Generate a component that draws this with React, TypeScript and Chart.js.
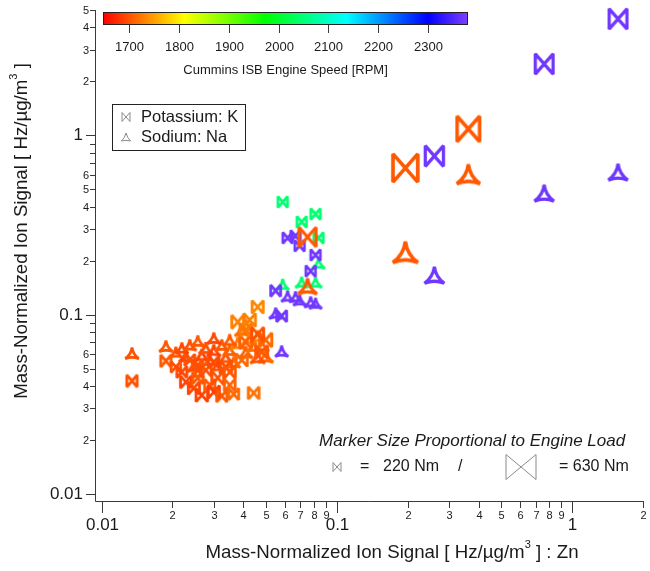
import { useEffect, useRef } from 'react';
import { Chart, registerables } from 'chart.js';

Chart.register(...registerables);

// ---------------- data (one entry per observation) ----------------
const zn = [
  0.01345, 0.01875, 0.02066, 0.02191, 0.02279, 0.02369, 0.02464, 0.02562, 0.02664, 0.0277,
  0.02881, 0.02996, 0.03115, 0.03239, 0.03368, 0.03502, 0.03641, 0.03787, 0.03938, 0.04094,
  0.04257, 0.04427, 0.04602, 0.04786, 0.04977, 0.02562, 0.02996, 0.03502, 0.04094, 0.04602,
  0.0588, 0.0708, 0.0811, 0.0835,
  0.0617, 0.0667, 0.0694, 0.0811, 0.0773, 0.0549, 0.0582,
  1.566, 0.76, 0.362, 0.2595, 0.1954, 0.075,
];
const potassium = [
  0.0427, 0.0552, 0.0511, 0.0479, 0.0421, 0.0559, 0.039, 0.0444, 0.0356, 0.0491,
  0.0405, 0.0371, 0.0444, 0.0352, 0.0511, 0.0405, 0.0361, 0.0911, 0.0559, 0.0704,
  0.0934, 0.0366, 0.1104, 0.0619, 0.0723, 0.0524, 0.0545, 0.0479, 0.0822, 0.078,
  0.425, 0.329, 0.364, 0.268,
  0.268, 0.275, 0.242, 0.215, 0.175, 0.136, 0.0983,
  4.46, 2.5, 1.086, 0.767, 0.658, 0.271,
];
const sodium = [
  0.0611, 0.0669, 0.0619, 0.0652, 0.0588, 0.0678, 0.0518, 0.0714, 0.0596, 0.0652,
  0.0559, 0.0635, 0.0524, 0.0678, 0.0581, 0.0635, 0.0545, 0.0696, 0.0822, 0.0619,
  0.0741, 0.0669, 0.076, 0.0678, 0.0588, 0.0479, 0.0741, 0.0723, 0.0876, 0.0581,
  0.148, 0.152, 0.152, 0.194,
  0.127, 0.126, 0.121, 0.116, 0.118, 0.102, 0.0627,
  0.625, 0.477, 0.609, 0.1665, 0.2237, 0.1446,
];
const engineSpeed = [
  1700, 1705, 1700, 1695, 1690, 1700, 1695, 1705, 1690, 1700,
  1705, 1690, 1700, 1705, 1700, 1710, 1715, 1730, 1715, 1710,
  1730, 1720, 1735, 1705, 1715, 1700, 1695, 1705, 1725, 1700,
  2045, 2045, 2045, 2045,
  2370, 2370, 2370, 2370, 2370, 2370, 2370,
  2370, 2370, 1705, 2370, 1705, 1705,
];
const engineLoad = [
  260, 260, 240, 250, 270, 250, 280, 260, 290, 270,
  260, 280, 300, 260, 290, 270, 250, 300, 280, 300,
  290, 270, 280, 300, 310, 240, 260, 280, 290, 300,
  240, 240, 240, 240,
  240, 240, 240, 240, 240, 250, 250,
  450, 450, 570, 460, 630, 430,
];

// ---------------- axes ----------------
const X_MIN = 0.009367;
const X_MAX = 2;
const Y_MIN = 0.00914;
const Y_MAX = 5;
const xTickValues = [
  0.01, 0.02, 0.03, 0.04, 0.05, 0.06, 0.07, 0.08, 0.09,
  0.1, 0.2, 0.3, 0.4, 0.5, 0.6, 0.7, 0.8, 0.9,
  1, 2,
];
const yTickValues = [
  0.01, 0.02, 0.03, 0.04, 0.05, 0.06, 0.07, 0.08, 0.09,
  0.1, 0.2, 0.3, 0.4, 0.5, 0.6, 0.7, 0.8, 0.9,
  1, 2, 3, 4, 5,
];
const xLabeledMantissas = [1, 2, 3, 4, 5, 6, 7, 8, 9];
const yLabeledMantissas = [1, 2, 3, 4, 5, 6];

// ---------------- colour bar ----------------
const CB_MIN = 1648;
const CB_MAX = 2380;
const colorbarTicks = [1700, 1800, 1900, 2000, 2100, 2200, 2300];
const cmapStops: [number, [number, number, number]][] = [
  [1648, [255, 0, 0]],
  [1811, [255, 255, 0]],
  [1973, [0, 255, 0]],
  [2136, [0, 255, 255]],
  [2299, [0, 0, 255]],
  [2380, [128, 64, 255]],
];
const LOAD_MIN = 220;
const LOAD_MAX = 630;

const FONT = '"Liberation Sans", Arial, Helvetica, sans-serif';
const INK = '#1a1a1a';
const AXIS = '#3a3a3a';

function colorFor(rpm: number): string {
  if (rpm <= cmapStops[0][0]) return `rgb(${cmapStops[0][1].join(',')})`;
  for (let i = 0; i < cmapStops.length - 1; i++) {
    const [v0, c0] = cmapStops[i];
    const [v1, c1] = cmapStops[i + 1];
    if (rpm <= v1) {
      const t = (rpm - v0) / (v1 - v0);
      const c = c0.map((a, k) => Math.round(a + (c1[k] - a) * t));
      return `rgb(${c.join(',')})`;
    }
  }
  return `rgb(${cmapStops[cmapStops.length - 1][1].join(',')})`;
}

type Shape = 'bowtie' | 'tri';

function markerDims(shape: Shape, load: number) {
  const t = (load - LOAD_MIN) / (LOAD_MAX - LOAD_MIN);
  if (shape === 'bowtie') {
    const w = 11.5 + t * 17;
    return { w, h: w * 1.12, lw: 2.7 + t * 1.0 };
  }
  const w = 15 + t * 14;
  return { w, h: w * 0.86, lw: 2.7 + t * 1.0 };
}

function tracePath(ctx: CanvasRenderingContext2D, shape: Shape, w: number, h: number, k = 0.75) {
  const hw = w / 2;
  const hh = h / 2;
  ctx.beginPath();
  if (shape === 'bowtie') {
    ctx.moveTo(-hw, -hh);
    ctx.lineTo(hw, hh);
    ctx.lineTo(hw, -hh);
    ctx.lineTo(-hw, hh);
    ctx.closePath();
  } else {
    const pts = [
      [0, -hh],
      [hw, hh],
      [-hw, hh],
    ];
    const cx = 0;
    const cy = hh / 3;
    ctx.moveTo(pts[0][0], pts[0][1]);
    for (let i = 0; i < 3; i++) {
      const a = pts[i];
      const b = pts[(i + 1) % 3];
      const mx = (a[0] + b[0]) / 2;
      const my = (a[1] + b[1]) / 2;
      ctx.quadraticCurveTo(mx + (cx - mx) * k, my + (cy - my) * k, b[0], b[1]);
    }
    ctx.closePath();
  }
}

const markerCache = new Map<string, HTMLCanvasElement>();
function markerImage(shape: Shape, color: string, load: number): HTMLCanvasElement {
  const key = `${shape}|${color}|${load}`;
  const hit = markerCache.get(key);
  if (hit) return hit;
  const { w, h, lw } = markerDims(shape, load);
  const pad = Math.ceil(lw * 3) + 2;
  const c = document.createElement('canvas');
  c.width = Math.round(w + 2 * pad);
  c.height = Math.round(h + 2 * pad);
  const ctx = c.getContext('2d')!;
  ctx.translate(c.width / 2, c.height / 2);
  ctx.strokeStyle = color;
  ctx.lineWidth = lw;
  ctx.lineJoin = 'miter';
  ctx.miterLimit = 2.2;
  tracePath(ctx, shape, w - lw, h - lw);
  ctx.stroke();
  markerCache.set(key, c);
  return c;
}

function mantissa(v: number) {
  return Math.round(v / Math.pow(10, Math.floor(Math.log10(v) + 1e-9)));
}

function drawIcon(ctx: CanvasRenderingContext2D, shape: Shape, x: number, y: number, w: number, h: number) {
  ctx.save();
  ctx.translate(x, y);
  ctx.strokeStyle = '#8a8a8a';
  ctx.lineWidth = 1;
  tracePath(ctx, shape, w, h, 0.5);
  ctx.stroke();
  ctx.restore();
}

function drawSupText(
  ctx: CanvasRenderingContext2D,
  parts: [string, boolean][],
  x: number,
  y: number,
  size: number,
) {
  const supSize = Math.round(size * 0.6);
  const widths = parts.map(([t, sup]) => {
    ctx.font = `${sup ? supSize : size}px ${FONT}`;
    return ctx.measureText(t).width;
  });
  const total = widths.reduce((a, b) => a + b, 0);
  let cx = x - total / 2;
  ctx.textAlign = 'left';
  ctx.textBaseline = 'middle';
  parts.forEach(([t, sup], i) => {
    ctx.font = `${sup ? supSize : size}px ${FONT}`;
    ctx.fillText(t, cx, sup ? y - size * 0.45 : y);
    cx += widths[i];
  });
}

const axesPlugin = {
  id: 'igorAxes',
  afterDraw(chart: any) {
    const ctx: CanvasRenderingContext2D = chart.ctx;
    const xs = chart.scales.x;
    const ys = chart.scales.y;
    const area = chart.chartArea;
    const left = Math.round(area.left);
    const bottom = Math.round(area.bottom);
    ctx.save();
    ctx.strokeStyle = AXIS;
    ctx.lineWidth = 1;
    ctx.beginPath();
    ctx.moveTo(left + 0.5, Math.round(area.top));
    ctx.lineTo(left + 0.5, bottom + 0.5);
    ctx.lineTo(Math.round(area.right) + 1, bottom + 0.5);
    ctx.stroke();

    ctx.fillStyle = INK;
    // x ticks
    xTickValues.forEach((v) => {
      const px = Math.round(xs.getPixelForValue(v)) + 0.5;
      const m = mantissa(v);
      const major = m === 1;
      ctx.beginPath();
      ctx.moveTo(px, bottom + 0.5);
      ctx.lineTo(px, bottom + (major ? 12 : 7));
      ctx.stroke();
      if (xLabeledMantissas.includes(m)) {
        ctx.textAlign = 'center';
        ctx.textBaseline = 'middle';
        if (major) {
          ctx.font = `17px ${FONT}`;
          ctx.fillText(String(v), px, bottom + 24);
        } else {
          ctx.font = `11px ${FONT}`;
          ctx.fillText(String(m), px, bottom + 15);
        }
      }
    });
    // y ticks
    yTickValues.forEach((v) => {
      const py = Math.round(ys.getPixelForValue(v)) + 0.5;
      const m = mantissa(v);
      const major = m === 1;
      ctx.beginPath();
      ctx.moveTo(left + 0.5, py);
      ctx.lineTo(left - (major ? 9 : 5), py);
      ctx.stroke();
      if (yLabeledMantissas.includes(m)) {
        ctx.textAlign = 'right';
        ctx.textBaseline = 'middle';
        if (major) {
          ctx.font = `17px ${FONT}`;
          ctx.fillText(String(v), left - 12, py);
        } else {
          ctx.font = `11px ${FONT}`;
          ctx.fillText(String(m), left - 6, py);
        }
      }
    });

    // axis titles
    drawSupText(
      ctx,
      [
        ['Mass-Normalized Ion Signal [ Hz/µg/m', false],
        ['3', true],
        [' ] : Zn', false],
      ],
      392,
      553,
      18.7,
    );
    ctx.save();
    ctx.translate(22, 231);
    ctx.rotate(-Math.PI / 2);
    drawSupText(
      ctx,
      [
        ['Mass-Normalized Ion Signal [ Hz/µg/m', false],
        ['3', true],
        [' ]', false],
      ],
      0,
      0,
      18.7,
    );
    ctx.restore();
    ctx.restore();
  },
};

const decorPlugin = {
  id: 'decor',
  afterDraw(chart: any) {
    const ctx: CanvasRenderingContext2D = chart.ctx;
    ctx.save();
    // colour bar
    const cbL = 103;
    const cbR = 468;
    const cbT = 12;
    const cbB = 25;
    const grad = ctx.createLinearGradient(cbL, 0, cbR, 0);
    cmapStops.forEach(([v, c]) => {
      grad.addColorStop((v - CB_MIN) / (CB_MAX - CB_MIN), `rgb(${c.join(',')})`);
    });
    ctx.fillStyle = grad;
    ctx.fillRect(cbL, cbT, cbR - cbL, cbB - cbT);
    ctx.strokeStyle = '#222';
    ctx.lineWidth = 1;
    ctx.strokeRect(cbL + 0.5, cbT + 0.5, cbR - cbL - 1, cbB - cbT - 1);
    ctx.fillStyle = INK;
    ctx.strokeStyle = AXIS;
    colorbarTicks.forEach((v) => {
      const x = Math.round(cbL + ((v - CB_MIN) / (CB_MAX - CB_MIN)) * (cbR - cbL)) + 0.5;
      ctx.beginPath();
      ctx.moveTo(x, cbB);
      ctx.lineTo(x, cbB + 8);
      ctx.stroke();
      ctx.font = `13px ${FONT}`;
      ctx.textAlign = 'center';
      ctx.textBaseline = 'middle';
      ctx.fillText(String(v), x, 47);
    });
    ctx.font = `13px ${FONT}`;
    ctx.fillText('Cummins ISB Engine Speed [RPM]', (cbL + cbR) / 2, 70);

    // legend box
    ctx.strokeStyle = '#222';
    ctx.strokeRect(112.5, 104.5, 133, 46);
    drawIcon(ctx, 'bowtie', 126, 117, 8, 9);
    drawIcon(ctx, 'tri', 126, 137, 9, 8);
    ctx.fillStyle = INK;
    ctx.font = `16.5px ${FONT}`;
    ctx.textAlign = 'left';
    ctx.textBaseline = 'middle';
    ctx.fillText('Potassium: K', 141, 117);
    ctx.fillText('Sodium: Na', 141, 137);

    // marker-size annotation
    ctx.font = `italic 17px ${FONT}`;
    ctx.fillText('Marker Size Proportional to Engine Load', 319, 441);
    ctx.font = `16px ${FONT}`;
    drawIcon(ctx, 'bowtie', 337, 467, 8, 9);
    ctx.fillText('=', 360, 467);
    ctx.fillText('220 Nm', 383, 467);
    ctx.fillText('/', 458, 467);
    drawIcon(ctx, 'bowtie', 521, 467, 30, 25);
    ctx.fillText('= 630 Nm', 559, 467);
    ctx.restore();
  },
};

export default function App() {
  const ref = useRef<HTMLCanvasElement>(null);
  useEffect(() => {
    const canvas = ref.current;
    if (!canvas) return;
    const mk = (shape: Shape) => (c: any) =>
      markerImage(shape, colorFor(engineSpeed[c.dataIndex]), engineLoad[c.dataIndex]);
    const chart = new Chart(canvas, {
      type: 'scatter',
      data: {
        datasets: [
          {
            label: 'Potassium: K',
            data: zn.map((x, i) => ({ x, y: potassium[i] })),
            pointStyle: mk('bowtie') as any,
            pointRadius: 6,
            clip: false as any,
          },
          {
            label: 'Sodium: Na',
            data: zn.map((x, i) => ({ x, y: sodium[i] })),
            pointStyle: mk('tri') as any,
            pointRadius: 6,
            clip: false as any,
          },
        ],
      },
      options: {
        responsive: false,
        animation: false,
        events: [],
        layout: { padding: { top: 10, right: 6, left: 0, bottom: 0 } },
        plugins: { legend: { display: false }, tooltip: { enabled: false } },
        scales: {
          x: {
            type: 'logarithmic',
            min: X_MIN,
            max: X_MAX,
            grid: { display: false },
            border: { display: false },
            ticks: { display: false },
            afterFit: (s: any) => {
              s.height = 70;
            },
          },
          y: {
            type: 'logarithmic',
            min: Y_MIN,
            max: Y_MAX,
            grid: { display: false },
            border: { display: false },
            ticks: { display: false },
            afterFit: (s: any) => {
              s.width = 95;
            },
          },
        },
      },
      plugins: [axesPlugin, decorPlugin],
    });
    return () => chart.destroy();
  }, []);
  return (
    <div style={{ position: 'absolute', left: 0, top: 0, width: 650, height: 571, background: '#fff' }}>
      <canvas ref={ref} width={650} height={571} style={{ display: 'block' }} />
    </div>
  );
}
